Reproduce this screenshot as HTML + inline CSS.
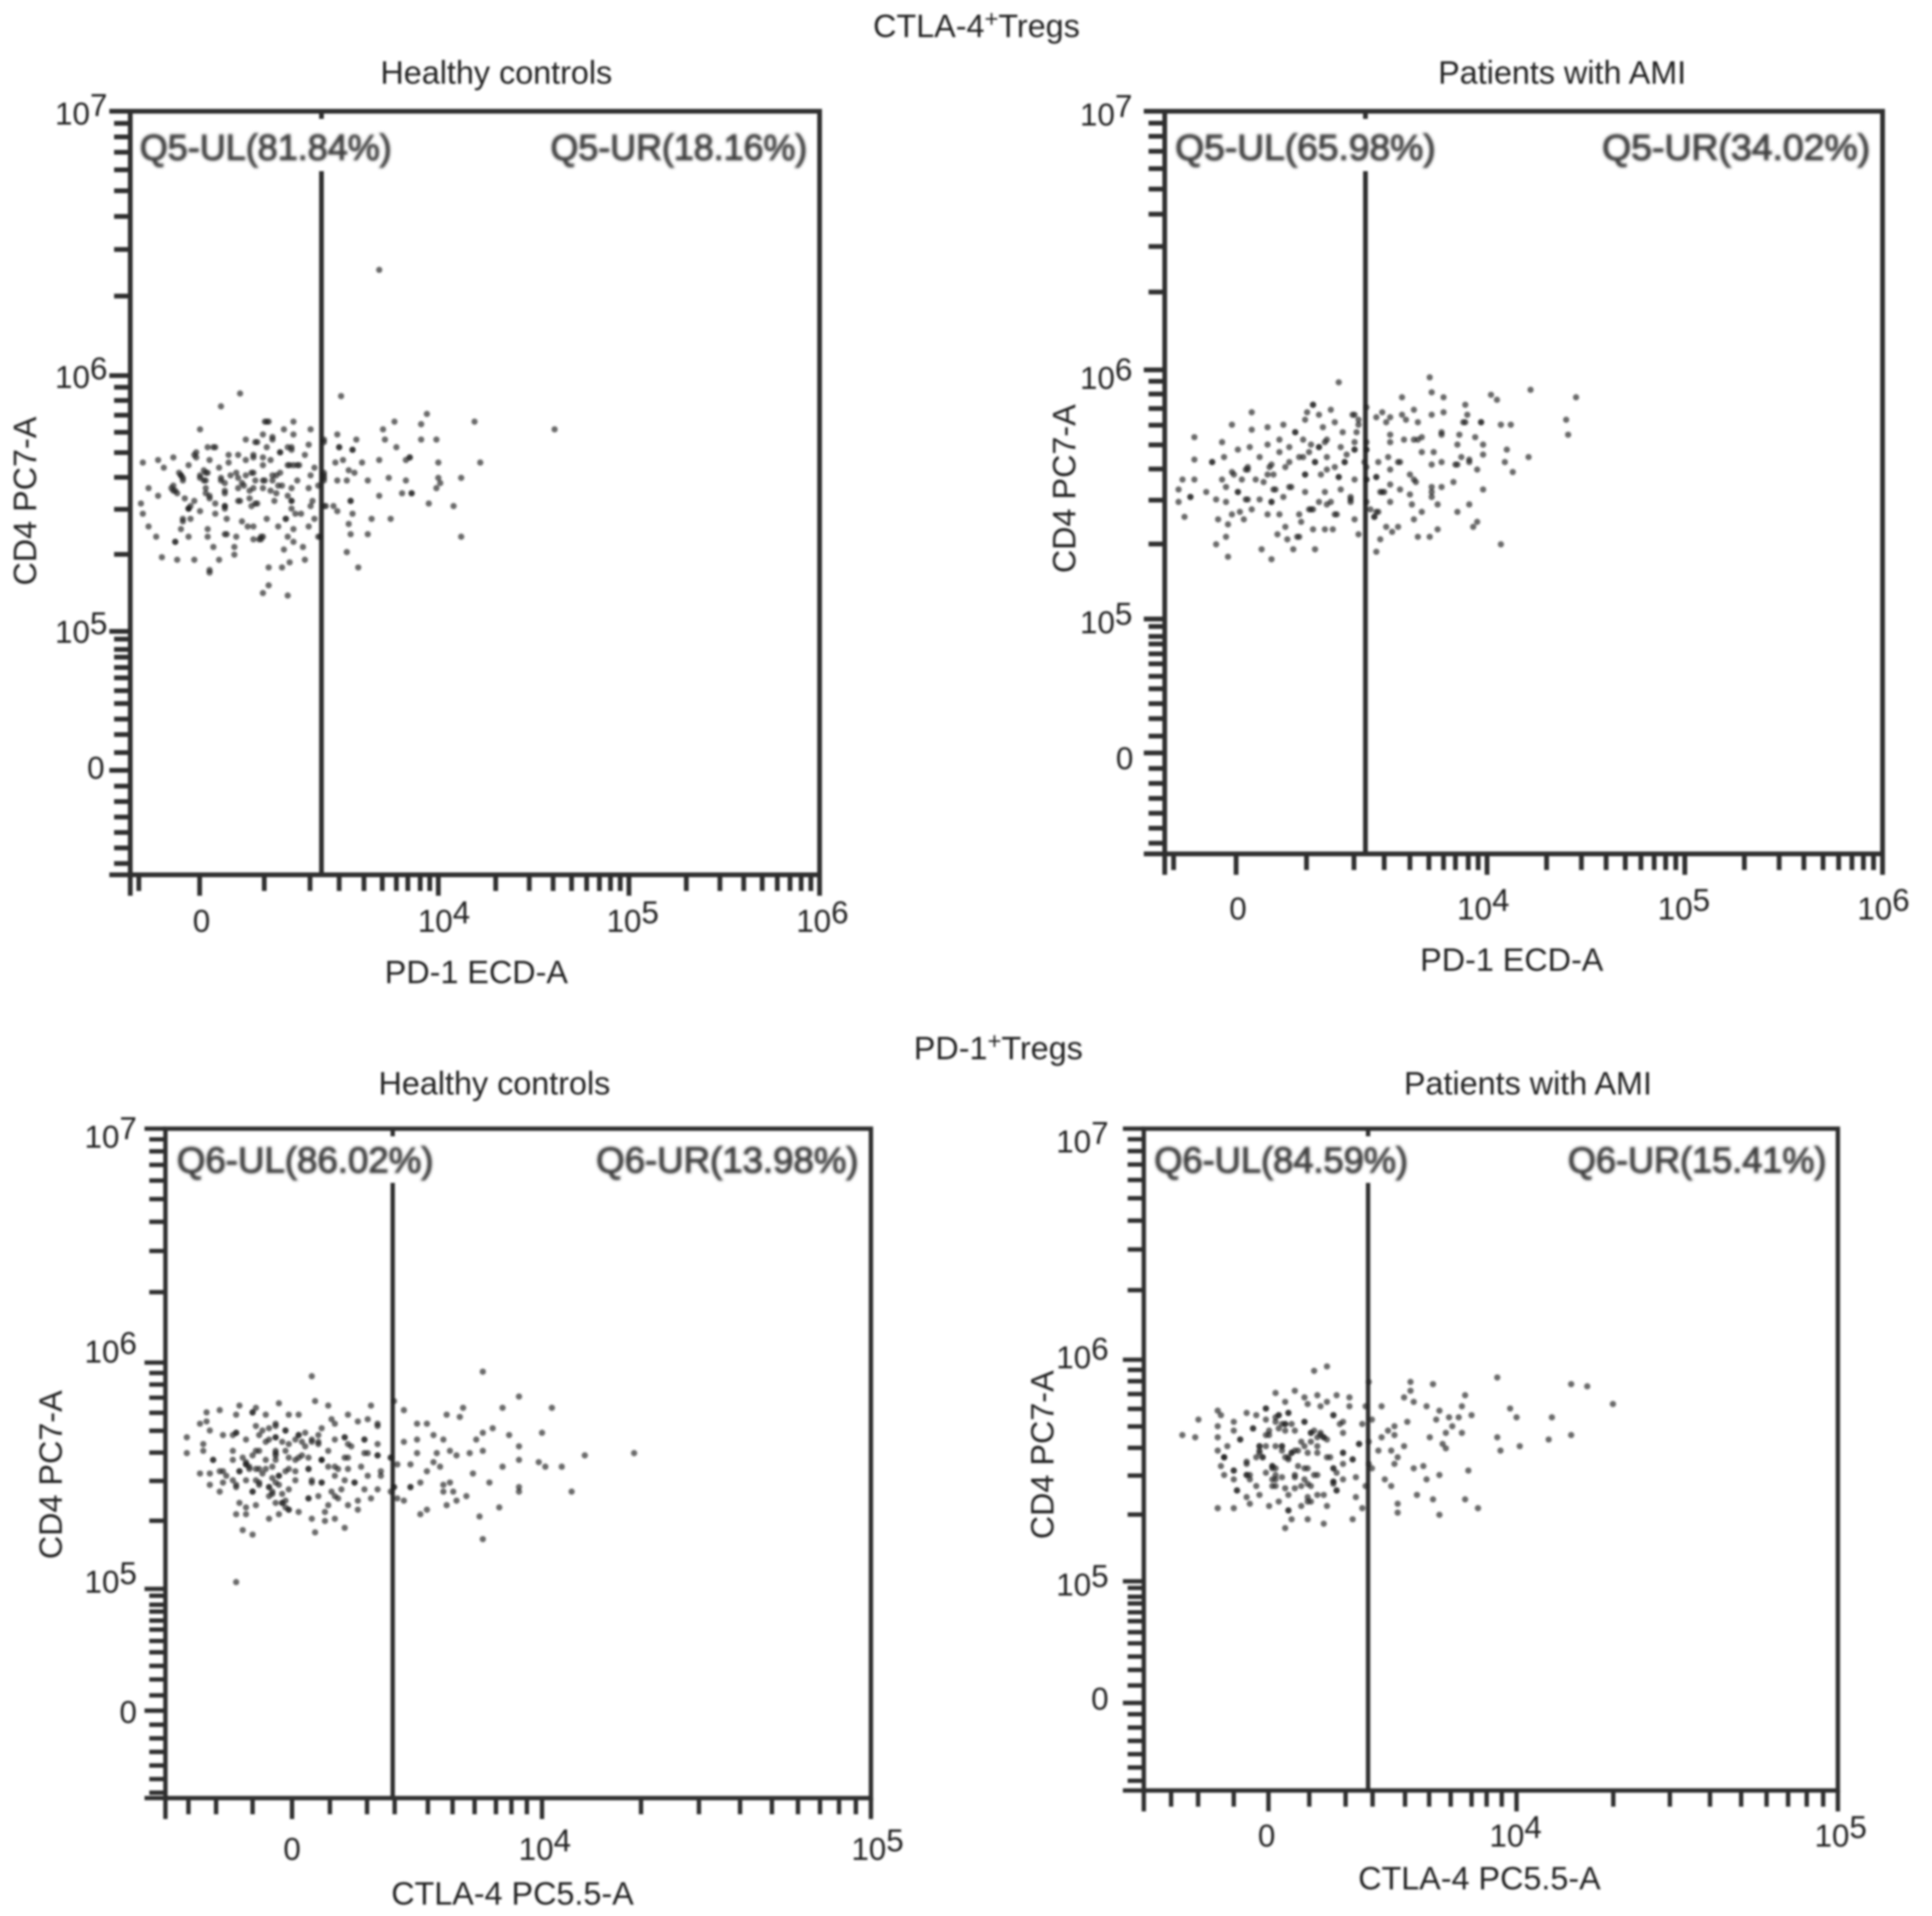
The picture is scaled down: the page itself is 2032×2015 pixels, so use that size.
<!DOCTYPE html>
<html lang="en">
<head>
<meta charset="utf-8">
<title>CTLA-4 and PD-1 Tregs flow cytometry</title>
<style>
html,body{margin:0;padding:0;background:#fff;}
svg{display:block;}
text{font-family:"Liberation Sans",Arial,sans-serif;fill:#222;}
.lab{font-size:34px;}
.tick{font-size:33px;}
.gate{font-size:38px;fill:#404040;stroke:#404040;stroke-width:1.2px;}
</style>
</head>
<body>
<svg id="figure" xmlns="http://www.w3.org/2000/svg" width="2032" height="2015" viewBox="0 0 2032 2015">
<defs>
<filter id="soft" x="-2%" y="-2%" width="104%" height="104%"><feGaussianBlur stdDeviation="0.95"/></filter>
<filter id="softer" x="-5%" y="-20%" width="110%" height="140%"><feGaussianBlur stdDeviation="1.1"/></filter>
</defs>
<rect width="2032" height="2015" fill="#fff"/>
<g id="root" filter="url(#soft)">
<text class="lab" x="1027" y="39" text-anchor="middle">CTLA-4<tspan font-size="25" dy="-11">+</tspan><tspan dy="11">Tregs</tspan></text>
<text class="lab" x="1050" y="1114" text-anchor="middle">PD-1<tspan font-size="25" dy="-11">+</tspan><tspan dy="11">Tregs</tspan></text>

<g id="p1">
<text class="lab" x="522" y="88" text-anchor="middle">Healthy controls</text>
<text class="lab" x="501" y="1034" text-anchor="middle">PD-1 ECD-A</text>
<text class="lab" transform="translate(38,527) rotate(-90)" text-anchor="middle">CD4 PC7-A</text>
<g filter="url(#softer)">
<text class="gate" x="147" y="168" textLength="265" lengthAdjust="spacingAndGlyphs">Q5-UL(81.84%)</text>
<text class="gate" x="579" y="168" textLength="270" lengthAdjust="spacingAndGlyphs">Q5-UR(18.16%)</text>
</g>
</g>

<g id="p2">
<text class="lab" x="1643" y="88" text-anchor="middle">Patients with AMI</text>
<text class="lab" x="1590" y="1021" text-anchor="middle">PD-1 ECD-A</text>
<text class="lab" transform="translate(1131,514) rotate(-90)" text-anchor="middle">CD4 PC7-A</text>
<g filter="url(#softer)">
<text class="gate" x="1236" y="168" textLength="274" lengthAdjust="spacingAndGlyphs">Q5-UL(65.98%)</text>
<text class="gate" x="1685" y="168" textLength="282" lengthAdjust="spacingAndGlyphs">Q5-UR(34.02%)</text>
</g>
</g>

<g id="p3">
<text class="lab" x="520" y="1151" text-anchor="middle">Healthy controls</text>
<text class="lab" x="539" y="2003" text-anchor="middle">CTLA-4 PC5.5-A</text>
<text class="lab" transform="translate(65,1551) rotate(-90)" text-anchor="middle">CD4 PC7-A</text>
<g filter="url(#softer)">
<text class="gate" x="186" y="1233" textLength="270" lengthAdjust="spacingAndGlyphs">Q6-UL(86.02%)</text>
<text class="gate" x="627" y="1233" textLength="276" lengthAdjust="spacingAndGlyphs">Q6-UR(13.98%)</text>
</g>
</g>

<g id="p4">
<text class="lab" x="1607" y="1151" text-anchor="middle">Patients with AMI</text>
<text class="lab" x="1556" y="1987" text-anchor="middle">CTLA-4 PC5.5-A</text>
<text class="lab" transform="translate(1108,1530) rotate(-90)" text-anchor="middle">CD4 PC7-A</text>
<g filter="url(#softer)">
<text class="gate" x="1214" y="1233" textLength="267" lengthAdjust="spacingAndGlyphs">Q6-UL(84.59%)</text>
<text class="gate" x="1649" y="1233" textLength="272" lengthAdjust="spacingAndGlyphs">Q6-UR(15.41%)</text>
</g>
</g>
</g>
</svg>

<script>
// Event values on the display scale (decades; the biexponential "0" tick sits near 2.75 / 3.24 on x and 4.46 on y)
const ctlaHealthyPd1 = [2.96,2.86,3.49,2.75,3.10,3.24,3.94,3.77,3.91,4.19,3.71,3.72,3.57,3.91,3.99,2.99,3.08,3.19,3.24,3.33,3.47,3.40,3.48,3.55,3.78,2.45,2.53,2.56,2.61,3.60,3.69,3.85,4.00,4.22,4.12,4.00,3.74,3.63,3.83,4.01,3.99,3.86,3.81,3.69,3.95,3.54,4.08,3.55,3.65,3.75,3.53,3.54,3.63,4.12,3.52,3.58,3.37,3.30,3.22,3.18,3.11,3.11,3.08,3.21,3.19,3.29,3.24,3.21,3.24,3.32,3.16,3.07,2.82,2.79,2.89,2.94,2.93,2.93,2.85,2.72,2.63,2.55,2.80,2.80,2.62,2.52,2.48,2.45,2.44,2.48,2.53,2.69,2.65,2.66,2.69,2.62,2.61,
2.79,2.83,2.73,2.90,2.95,3.03,3.10,3.13,3.17,3.21,3.23,3.30,3.32,3.05,2.69,2.77,2.85,2.99,3.08,3.12,3.22,3.26,3.35,3.46,3.50,2.80,2.90,2.65,2.75,2.79,2.86,2.94,3.02,3.04,2.97,3.09,3.15,3.18,3.26,3.33,3.47,3.52,3.56,3.53,3.40,3.40,2.66,2.60,2.63,2.67,2.72,2.78,2.80,2.88,2.88,2.95,3.03,3.08,3.12,3.15,3.23,3.32,3.37,2.70,2.69,2.83,2.88,2.95,3.05,3.14,3.23,3.34,3.33,3.23,3.41,3.47,3.45,3.02,2.75,2.83,3.28,2.89,2.97,3.00,3.03,3.10,3.20,3.35,3.25,2.70,2.79,3.07,3.03,2.64,2.77,2.91,2.99,3.13,3.21,3.01,2.88,
3.69,4.61,
2.78,2.78,2.80,2.86,2.88,2.95,2.98,3.01,3.03,3.08,3.13,3.17,3.16,3.21,3.24,3.27,3.23,3.17,3.13,3.40,3.40,3.40,3.38,3.40,2.88,2.88,2.69,2.66,2.62,2.78,2.75,2.65,2.66,2.61,2.72,2.73,2.82,3.11,3.09,3.54,3.48,3.55,3.86,3.85,3.83,2.96,3.04,3.06,3.08,3.23,3.20,3.03,3.08,3.04];
const ctlaHealthyCd4 = [5.93,5.88,5.92,5.79,5.82,5.82,5.85,5.82,5.81,5.82,5.79,5.75,5.75,5.75,5.75,5.75,5.77,5.79,5.77,5.79,5.77,5.74,5.72,5.71,5.72,5.66,5.67,5.64,5.68,5.66,5.67,5.68,5.66,5.66,5.60,5.60,5.60,5.59,5.59,5.58,5.56,5.54,5.54,5.53,5.50,5.51,5.49,5.46,5.44,5.44,5.42,5.38,5.38,5.37,5.31,5.25,5.37,5.28,5.27,5.25,5.25,5.18,5.15,5.14,5.32,5.33,5.35,5.37,5.40,5.41,5.41,5.37,5.33,5.40,5.38,5.37,5.33,5.30,5.28,5.28,5.28,5.29,5.24,5.23,5.35,5.37,5.41,5.46,5.50,5.56,5.53,5.37,5.40,5.44,5.48,5.55,5.57,
5.72,5.72,5.70,5.69,5.69,5.69,5.72,5.75,5.70,5.72,5.71,5.69,5.73,5.74,5.65,5.63,5.64,5.67,5.65,5.67,5.65,5.65,5.64,5.66,5.67,5.67,5.66,5.61,5.60,5.62,5.59,5.62,5.62,5.59,5.58,5.59,5.61,5.57,5.59,5.61,5.59,5.59,5.62,5.63,5.62,5.59,5.59,5.56,5.54,5.52,5.51,5.54,5.52,5.54,5.58,5.56,5.56,5.56,5.55,5.54,5.56,5.56,5.57,5.49,5.48,5.50,5.49,5.51,5.50,5.51,5.51,5.51,5.49,5.48,5.49,5.47,5.49,5.49,5.47,5.46,5.46,5.44,5.43,5.41,5.41,5.44,5.44,5.44,5.46,5.44,5.37,5.36,5.36,5.62,5.59,5.61,5.61,5.59,5.53,5.52,5.48,
6.40,5.79,
5.59,5.56,5.53,5.60,5.55,5.60,5.57,5.55,5.62,5.59,5.61,5.62,5.57,5.65,5.65,5.65,5.72,5.70,5.76,5.75,5.61,5.60,5.37,5.49,5.38,5.49,5.48,5.43,5.35,5.62,5.61,5.61,5.60,5.55,5.69,5.68,5.72,5.82,5.82,5.51,5.72,5.71,5.54,5.68,5.67,5.51,5.50,5.36,5.37,5.51,5.44,5.68,5.68,5.74];

const ctlaAmiPd1 = [3.25,3.71,3.72,3.78,3.57,4.22,4.45,4.02,4.05,3.89,3.63,3.72,3.78,4.40,4.41,4.07,4.12,3.90,3.89,3.97,2.81,3.39,3.12,3.09,3.15,3.08,3.21,3.23,3.33,3.35,3.47,3.44,3.51,3.57,3.59,3.49,3.65,3.77,3.86,3.94,3.98,3.85,4.10,4.21,3.98,4.09,4.13,3.95,3.98,3.91,3.85,3.95,3.93,4.07,3.75,3.71,3.65,3.67,3.63,3.55,3.52,3.49,3.46,3.44,3.35,3.33,3.22,3.18,3.12,3.13,3.02,2.91,2.86,2.69,2.63,2.68,2.64,2.69,2.77,2.71,2.75,2.47,2.44,2.50,2.44,2.46,2.52,2.52,2.52,2.58,2.63,2.68,2.66,2.71,2.81,2.89,2.97,2.74,2.80,2.89,2.67,2.61,3.03,3.17,3.27,
2.95,3.00,2.95,3.07,3.11,3.15,3.19,3.26,3.33,3.33,3.39,3.39,2.85,2.91,2.79,2.83,2.87,2.98,3.07,3.13,3.19,3.19,3.28,3.38,3.45,3.50,3.55,3.51,3.58,3.65,3.67,3.67,3.73,3.77,3.72,3.84,3.87,3.91,3.61,3.64,3.51,3.72,3.77,3.83,3.72,3.75,3.61,3.56,3.51,3.62,3.47,3.44,3.39,3.39,3.33,3.25,3.16,3.08,3.01,2.93,2.91,2.85,2.81,2.78,2.74,2.72,2.66,2.68,2.92,2.97,3.08,3.15,3.11,3.05,2.95,2.89,3.19,3.23,3.26,3.18,3.31,3.31,3.44,3.43,3.41,3.06,2.98,2.94,3.04,2.99,3.51,3.39,
2.61,2.50,2.74,2.91,3.00,2.92,3.15,3.18,3.03,3.12,3.13,3.28,3.25,3.44,3.46,3.48,3.43,3.45,3.39,3.39,3.33,3.08,3.10,3.12,2.90,2.89,2.79,2.78,2.71,2.76,2.79,3.00,3.05,3.10,3.23,3.29,3.34,3.35,3.32,3.51,3.63,3.77,3.88,3.97,3.85,3.91,3.56,3.63,3.72,3.21,3.24,3.31,3.05];
const ctlaAmiCd4 = [5.95,5.97,5.91,5.89,5.89,5.92,5.89,5.90,5.88,5.86,5.84,5.82,5.83,5.80,5.74,5.78,5.78,5.82,5.79,5.79,5.83,5.85,5.86,5.83,5.82,5.80,5.84,5.79,5.82,5.78,5.83,5.81,5.81,5.82,5.80,5.79,5.79,5.75,5.74,5.73,5.70,5.70,5.68,5.65,5.66,5.63,5.59,5.60,5.52,5.46,5.43,5.39,5.37,5.30,5.36,5.33,5.33,5.43,5.40,5.37,5.35,5.37,5.32,5.27,5.34,5.40,5.36,5.36,5.36,5.28,5.28,5.24,5.28,5.25,5.30,5.33,5.40,5.38,5.40,5.42,5.43,5.41,5.47,5.49,5.52,5.56,5.56,5.64,5.73,5.51,5.48,5.47,5.71,5.78,5.76,5.77,5.78,5.68,5.69,5.70,5.65,5.63,5.75,5.77,5.75,
5.72,5.69,5.67,5.72,5.70,5.69,5.72,5.69,5.71,5.68,5.71,5.68,5.65,5.62,5.60,5.56,5.55,5.61,5.65,5.63,5.65,5.60,5.63,5.63,5.63,5.65,5.63,5.74,5.72,5.72,5.73,5.67,5.67,5.63,5.62,5.62,5.65,5.64,5.58,5.55,5.60,5.53,5.53,5.55,5.49,5.46,5.50,5.52,5.47,5.46,5.51,5.57,5.56,5.61,5.56,5.57,5.58,5.58,5.53,5.52,5.47,5.48,5.44,5.48,5.51,5.58,5.56,5.53,5.58,5.49,5.51,5.47,5.44,5.42,5.42,5.42,5.46,5.42,5.52,5.51,5.47,5.49,5.43,5.41,5.44,5.39,5.37,5.34,5.33,5.32,5.54,5.47,
5.63,5.49,5.51,5.47,5.53,5.52,5.69,5.71,5.75,5.86,5.63,5.63,5.57,5.57,5.51,5.51,5.41,5.43,5.56,5.68,5.68,5.58,5.44,5.44,5.61,5.58,5.61,5.60,5.59,5.56,5.48,5.63,5.65,5.67,5.61,5.66,5.75,5.80,5.82,5.71,5.72,5.74,5.79,5.79,5.62,5.63,5.63,5.56,5.51,5.47,5.42,5.48,5.33];

const pd1HealthyCtla4 = [3.30,3.82,3.93,4.03,3.88,3.76,3.71,3.75,3.55,3.58,3.31,3.35,3.20,3.02,2.98,3.08,3.13,3.12,3.07,3.16,3.23,3.26,3.48,3.41,3.44,3.47,3.50,3.50,3.36,3.37,2.96,2.98,2.99,2.92,2.92,2.97,2.97,3.00,2.96,2.99,3.03,2.99,3.02,3.07,3.09,3.12,3.31,3.40,3.34,3.37,3.30,3.17,3.20,3.07,3.10,3.82,3.81,3.87,4.09,3.93,3.93,3.84,3.79,4.06,3.99,4.01,3.88,3.93,4.13,4.28,3.93,3.90,4.00,3.85,3.82,3.80,3.82,3.78,3.74,3.72,3.70,3.67,3.65,3.62,3.62,3.58,3.68,3.62,3.60,3.67,3.69,3.65,3.63,3.60,3.72,3.70,3.70,3.73,3.77,3.74,3.71,3.65,3.63,3.58,3.56,3.55,3.54,3.54,3.56,3.48,3.50,3.46,3.47,3.51,3.51,3.43,3.44,3.44,3.41,3.37,3.38,3.35,3.34,3.39,3.37,3.45,3.41,3.41,3.46,3.50,3.50,3.46,3.40,3.37,3.42,
3.07,3.03,3.13,3.19,3.22,3.19,3.26,3.32,3.33,3.10,3.14,3.06,3.19,3.23,3.28,3.32,3.35,3.33,3.19,3.13,3.10,3.06,3.08,3.03,3.07,3.14,3.17,3.20,3.25,3.29,3.30,3.33,3.22,3.23,3.12,3.17,3.21,3.23,3.26,3.29,3.32,3.08,3.10,3.13,3.19,3.37,3.26,3.16,3.28,3.10,3.12,3.18,
3.09,3.11,3.15,3.18,3.22,3.25,3.30,3.17,3.14,3.21,3.29,3.25,3.06,3.18,3.22,3.20,3.14,3.10,3.33,3.19,
3.10,3.11,3.13,3.14,3.07,3.08,3.07,3.13,3.20,3.21,3.21,3.22,3.23,3.19,3.19,3.19,3.26,3.30,3.32,3.33,3.29,3.30,3.33,3.12,3.17,3.18,3.12,3.29,3.43,3.46,3.50,3.47,3.54,3.55,3.60,3.15,3.19,3.17,3.22,3.02,3.04,3.06,3.00,3.16,3.16,3.23,3.23,3.27,3.25,3.27,3.40,3.41,3.40,3.35,3.38,3.40,3.36];
const pd1HealthyCd4 = [5.94,5.96,5.85,5.80,5.80,5.80,5.77,5.76,5.83,5.79,5.83,5.81,5.82,5.79,5.78,5.81,5.80,5.78,5.77,5.77,5.77,5.77,5.81,5.77,5.74,5.75,5.73,5.72,5.75,5.73,5.73,5.74,5.70,5.67,5.60,5.64,5.61,5.57,5.51,5.51,5.47,5.46,5.43,5.03,5.26,5.24,5.25,5.27,5.30,5.31,5.31,5.31,5.33,5.33,5.33,5.22,5.32,5.36,5.43,5.45,5.43,5.47,5.51,5.54,5.56,5.54,5.54,5.57,5.59,5.60,5.63,5.68,5.69,5.71,5.69,5.66,5.61,5.60,5.59,5.61,5.66,5.68,5.73,5.73,5.66,5.65,5.60,5.60,5.55,5.56,5.54,5.52,5.47,5.45,5.47,5.46,5.43,5.43,5.41,5.39,5.37,5.35,5.33,5.39,5.40,5.45,5.43,5.58,5.55,5.40,5.44,5.44,5.50,5.52,5.50,5.47,5.39,5.35,5.37,5.41,5.40,5.37,5.34,5.44,5.50,5.54,5.53,5.58,5.60,5.59,5.64,5.66,5.67,5.66,5.63,
5.69,5.68,5.72,5.72,5.70,5.67,5.68,5.68,5.71,5.66,5.61,5.61,5.60,5.64,5.63,5.64,5.61,5.57,5.57,5.53,5.55,5.57,5.52,5.52,5.46,5.47,5.45,5.50,5.52,5.53,5.47,5.47,5.52,5.44,5.43,5.41,5.38,5.35,5.34,5.40,5.41,5.38,5.36,5.37,5.38,5.54,5.58,5.57,5.69,5.55,5.59,5.49,
5.58,5.53,5.51,5.54,5.61,5.66,5.65,5.66,5.68,5.65,5.58,5.57,5.68,5.43,5.39,5.46,5.46,5.48,5.57,5.47,
5.56,5.54,5.61,5.53,5.45,5.52,5.69,5.48,5.50,5.42,5.38,5.36,5.35,5.67,5.61,5.59,5.68,5.66,5.65,5.57,5.53,5.48,5.47,5.78,5.45,5.42,5.43,5.40,5.47,5.66,5.59,5.60,5.58,5.45,5.45,5.70,5.73,5.71,5.70,5.52,5.50,5.48,5.57,5.65,5.53,5.53,5.58,5.59,5.48,5.65,5.67,5.64,5.58,5.54,5.53,5.48,5.43];

const pd1AmiCtla4 = [3.37,3.41,3.54,3.67,3.74,3.94,4.17,4.22,4.30,3.84,3.67,3.65,3.68,3.72,3.58,3.53,3.44,3.48,3.48,3.38,3.41,3.39,3.25,3.31,3.34,3.35,3.28,3.29,3.22,3.25,3.07,3.08,3.16,3.19,3.12,3.01,3.07,2.96,3.00,3.07,3.12,3.18,3.14,3.10,3.07,3.09,3.08,3.12,3.09,3.12,3.17,3.13,3.16,3.17,3.07,3.12,3.23,3.26,3.29,3.33,3.30,3.35,3.40,3.28,3.49,3.41,3.36,3.40,3.38,3.29,3.20,3.52,3.50,3.44,3.43,3.50,3.53,3.55,3.54,3.54,3.51,3.55,3.52,3.62,3.60,3.58,3.62,3.65,3.57,3.61,3.63,3.62,3.59,3.61,3.66,3.68,3.71,3.76,3.72,3.69,3.74,3.63,3.63,3.76,3.84,3.88,3.85,3.73,3.77,3.78,3.78,3.80,3.75,3.79,3.76,3.83,3.86,3.82,3.83,3.98,4.00,4.11,4.17,4.10,3.94,4.01,3.95,
3.22,3.25,3.28,3.34,3.36,3.39,3.43,3.46,3.46,3.20,3.21,3.24,3.27,3.30,3.29,3.35,3.38,3.41,3.43,3.46,3.49,3.34,3.31,3.27,3.24,3.34,3.16,3.16,3.09,3.33,3.36,3.43,3.46,3.38,3.23,3.26,3.31,3.40,3.46,3.35,3.27,3.20,3.25,3.28,3.19,3.31,3.22,
3.28,3.31,3.24,3.29,3.26,3.37,3.41,3.25,3.32,3.28,3.22,3.19,3.33,3.38,3.44,
3.20,3.20,3.21,3.27,3.30,3.28,3.24,3.25,3.26,3.27,3.30,3.39,3.40,3.36,3.29,3.13,3.12,3.09,3.14,3.43,3.22,3.29,3.18,3.16,3.25,3.31,3.32,3.34,3.36,3.43,3.45,3.42,3.46,3.49,3.51,3.35,3.37,3.35,3.35,3.44,3.43,3.22,3.23,3.16,3.17,3.24,3.38,3.34,3.25];
const pd1AmiCd4 = [5.95,5.97,5.90,5.90,5.89,5.92,5.89,5.88,5.80,5.84,5.86,5.83,5.81,5.79,5.79,5.79,5.84,5.83,5.79,5.84,5.81,5.79,5.85,5.86,5.83,5.80,5.81,5.76,5.78,5.74,5.77,5.75,5.76,5.75,5.72,5.73,5.70,5.66,5.65,5.65,5.68,5.69,5.64,5.61,5.59,5.56,5.52,5.50,5.48,5.46,5.48,5.41,5.38,5.35,5.33,5.33,5.34,5.36,5.32,5.34,5.28,5.28,5.26,5.24,5.28,5.34,5.36,5.39,5.39,5.39,5.39,5.33,5.38,5.41,5.44,5.47,5.43,5.51,5.53,5.63,5.62,5.73,5.71,5.70,5.68,5.65,5.66,5.61,5.59,5.59,5.56,5.53,5.46,5.43,5.72,5.51,5.52,5.48,5.46,5.39,5.37,5.35,5.31,5.30,5.37,5.33,5.50,5.65,5.62,5.60,5.67,5.70,5.73,5.74,5.77,5.79,5.75,5.74,5.67,5.78,5.74,5.74,5.66,5.64,5.65,5.61,5.59,
5.66,5.72,5.71,5.72,5.67,5.66,5.75,5.72,5.67,5.61,5.56,5.52,5.61,5.58,5.55,5.58,5.61,5.56,5.51,5.58,5.55,5.51,5.48,5.47,5.46,5.46,5.54,5.48,5.56,5.43,5.43,5.45,5.46,5.48,5.66,5.75,5.68,5.65,5.53,5.36,5.59,5.59,5.43,5.42,5.43,5.42,5.49,
5.68,5.59,5.51,5.56,5.69,5.68,5.64,5.48,5.52,5.71,5.61,5.56,5.63,5.58,5.49,
5.61,5.58,5.56,5.61,5.58,5.56,5.52,5.51,5.75,5.71,5.71,5.67,5.65,5.67,5.32,5.41,5.50,5.56,5.64,5.51,5.78,5.76,5.69,5.48,5.46,5.47,5.59,5.61,5.63,5.75,5.71,5.56,5.58,5.55,5.62,5.51,5.48,5.44,5.38,5.41,5.45,5.73,5.68,5.53,5.46,5.43,5.65,5.72,5.61];

// Axis ticks on the display scale, and their printed labels
const yDecades = [7, 6, 5];
const yTickLabels = ['10|7', '10|6', '10|5', '0'];
const logSteps = [2, 3, 4, 5, 6, 7, 8, 9];
const yBiexMinor = [4.97,4.93,4.90,4.86,4.82,4.77,4.72,4.66,4.60,4.53,4.40,4.34,4.28,4.22,4.16,4.10];
const xMinorWide = [3.087,3.327,3.48,3.61,3.706,3.78,3.84,3.905,3.955];
const xMinorNarrow = [2.925,3.009,3.12,3.355,3.468,3.552,3.653,3.728,3.795,3.86,3.907,3.954];
const xTickLabelsWide = ['0', '10|4', '10|5', '10|6'];
const xTickLabelsNarrow = ['0', '10|4', '10|5'];

// Panel layout: frame, axis domains and label nudges
const panels = [
 {id:'p1', xs:ctlaHealthyPd1, ys:ctlaHealthyCd4, L:137, R:862, T:117, B:920, y6:395, y5:664, xDom:[2.384,6], yLo:4.056, yZero:4.461, gate:3.387, xZero:2.748, xTop:6, xMinor:xMinorWide, xLabels:xTickLabelsWide, xLabDx:[2,6,4,3], xLabY:980, yLabR:113, yLabDy:[14,13,12,9], gateTop:180, zeroR:110, tw:5},
 {id:'p2', xs:ctlaAmiPd1, ys:ctlaAmiCd4, L:1225, R:1980, T:117, B:898, y6:389, y5:651, xDom:[2.37,6], yLo:4.057, yZero:4.462, gate:3.385, xZero:2.731, xTop:6, xMinor:xMinorWide, xLabels:xTickLabelsWide, xLabDx:[2,-4,-1,1], xLabY:967, yLabR:1191, yLabDy:[15,20,15,17], gateTop:180, zeroR:1192, tw:5},
 {id:'p3', xs:pd1HealthyCtla4, ys:pd1HealthyCd4, L:174, R:916, T:1187, B:1891, y6:1433, y5:1671, xDom:[2.855,5], yLo:4.076, yZero:4.462, gate:3.546, xZero:3.24, xTop:5, xMinor:xMinorNarrow, xLabels:xTickLabelsNarrow, xLabDx:[0,3,7], xLabY:1956, yLabR:144, yLabDy:[20,0,4,13], gateTop:1244, zeroR:144, tw:4.6},
 {id:'p4', xs:pd1AmiCtla4, ys:pd1AmiCd4, L:1203, R:1933, T:1187, B:1883, y6:1430, y5:1663, xDom:[2.84,5], yLo:4.056, yZero:4.451, gate:3.538, xZero:3.228, xTop:5, xMinor:xMinorNarrow, xLabels:xTickLabelsNarrow, xLabDx:[-2,-1,3], xLabY:1942, yLabR:1166, yLabDy:[25,9,15,7], gateTop:1244, zeroR:1166, tw:4.6}
];

const NS = 'http://www.w3.org/2000/svg';
const INK = '#2e2e2e';

function make(parent, tag, attrs) {
  const node = document.createElementNS(NS, tag);
  for (const k in attrs) node.setAttribute(k, attrs[k]);
  parent.appendChild(node);
  return node;
}
function linearScale(dom, rng) {
  return function (v) {
    return rng[0] + (v - dom[0]) * (rng[1] - rng[0]) / (dom[1] - dom[0]);
  };
}
function pieceScale(dom, rng) {
  return function (v) {
    for (let i = 0; i < dom.length - 1; i++) {
      if (v >= dom[i + 1] || i === dom.length - 2) {
        return rng[i] + (v - dom[i]) * (rng[i + 1] - rng[i]) / (dom[i + 1] - dom[i]);
      }
    }
    return rng[0];
  };
}
function tickText(parent, label, x, y, anchor) {
  const parts = label.split('|');
  const t = make(parent, 'text', {class: 'tick', x: x, y: y, 'text-anchor': anchor});
  
  
  t.appendChild(document.createTextNode(parts[0]));
  if (parts[1]) {
    const s = make(t, 'tspan', {dy: -9});
    s.textContent = parts[1];
  }
  return t;
}

panels.forEach(function (p) {
  const g = document.getElementById(p.id);
  const xAxis = linearScale(p.xDom, [p.L, p.R]);
  const yAxis = pieceScale([7, 6, 5, p.yLo], [p.T, p.y6, p.y5, p.B]);

  // ticks
  const ticks = make(g, 'g', {stroke: INK, 'stroke-width': p.tw});
  
  

  const yMajor = yDecades.concat([p.yZero, p.yLo]);
  yMajor.forEach(function (v) {
    const yy = yAxis(v);
    const tk = make(ticks, 'line', {x1: p.L - 22, x2: p.L, y1: yy, y2: yy});
    
    
  });
  const yMinor = [];
  [6, 5].forEach(function (d) {
    logSteps.forEach(function (k) { yMinor.push(d + Math.log10(k)); });
  });
  yBiexMinor.forEach(function (v) { yMinor.push(v); });
  yMinor.forEach(function (v) {
    const yy = yAxis(v);
    const tk = make(ticks, 'line', {x1: p.L - 17, x2: p.L, y1: yy, y2: yy});
    
    
  });

  const xMajor = [p.xDom[0], p.xZero, 4, 5];
  if (p.xTop === 6) xMajor.push(6);
  xMajor.forEach(function (v) {
    const xx = xAxis(v);
    const tk = make(ticks, 'line', {x1: xx, x2: xx, y1: p.B, y2: p.B + 22});
    
    
  });
  const xMinor = p.xMinor.slice();
  if (p.xTop === 6) xMinor.push(p.xDom[0] + 0.045);
  for (let d = 4; d < p.xTop; d++) {
    logSteps.forEach(function (k) { xMinor.push(d + Math.log10(k)); });
  }
  xMinor.forEach(function (v) {
    const xx = xAxis(v);
    const tk = make(ticks, 'line', {x1: xx, x2: xx, y1: p.B, y2: p.B + 17});
    
    
  });

  // frame
  const frame = make(g, 'rect', {x: p.L, y: p.T, width: p.R - p.L, height: p.B - p.T, fill: 'none', stroke: INK, 'stroke-width': p.tw});
  
  

  // quadrant gate
  const gx = xAxis(p.gate);
  const gateLine = make(g, 'line', {x1: gx, x2: gx, y1: p.gateTop, y2: p.B, stroke: INK, 'stroke-width': p.tw});
  
  
  const gateStub = make(g, 'line', {x1: gx, x2: gx, y1: p.T, y2: p.T + 8, stroke: INK, 'stroke-width': p.tw});
  
  

  // events
  const dots = make(g, 'g', {fill: '#222', 'fill-opacity': 0.68});
  
  
  const n = Math.min(p.xs.length, p.ys.length);
  for (let i = 0; i < n; i++) {
    const c = make(dots, 'circle', {cx: xAxis(p.xs[i]), cy: yAxis(p.ys[i]), r: 3.3});
    
    
  }

  // tick labels
  const yVals = yDecades.concat([p.yZero]);
  yTickLabels.forEach(function (lab, i) {
    const right = lab === '0' ? p.zeroR : p.yLabR;
    tickText(g, lab, right, yAxis(yVals[i]) + p.yLabDy[i], 'end');
  });
  const xVals = [p.xZero, 4, 5, 6];
  p.xLabels.forEach(function (lab, i) {
    tickText(g, lab, xAxis(xVals[i]) + p.xLabDx[i], p.xLabY, 'middle');
  });
});
</script>
</body>
</html>
